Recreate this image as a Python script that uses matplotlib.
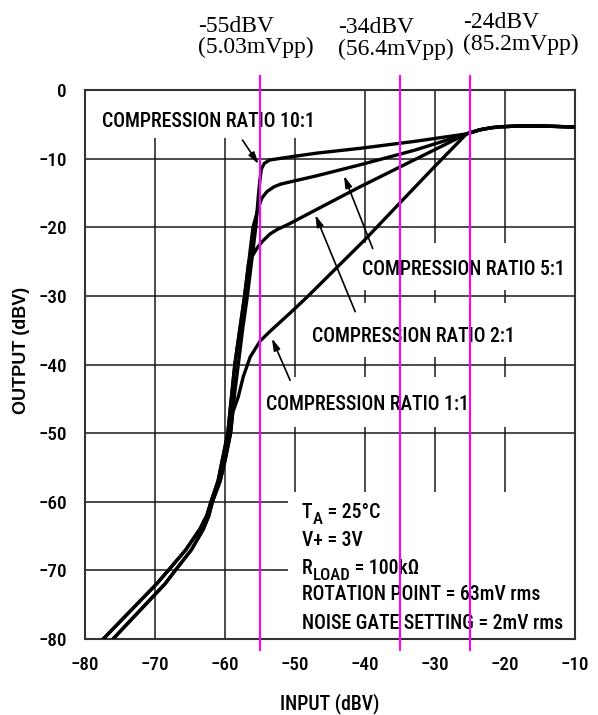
import os
import matplotlib
matplotlib.use("Agg")
import matplotlib.pyplot as plt
from matplotlib import font_manager
from matplotlib.font_manager import FontProperties
from matplotlib.patches import Rectangle

# pick a narrow sans font if one is installed (datasheet uses Arial Narrow)
wanted = ['liberationsansnarrow-regular', 'arialnarrow', 'robotocondensed-medium',
          'robotocondensed-regular', 'notosans-condensedmedium', 'notosans-condensed.',
          'opensans-condensed', 'dejavusanscondensed.']
files = [f.fname for f in font_manager.fontManager.ttflist]
narrow_file = None
for w in wanted:
    hits = [f for f in files if w in os.path.basename(f).lower()]
    if hits:
        narrow_file = hits[0]
        break
if narrow_file:
    NFP = FontProperties(fname=narrow_file)
else:
    NFP = FontProperties(family='Liberation Sans')

# ---- data ----
x_ticks = [-80, -70, -60, -50, -40, -30, -20, -10]
y_ticks = [0, -10, -20, -30, -40, -50, -60, -70, -80]

# noise gate / expansion region, two strands of the bundle
gate_y     = [-80, -76, -72, -70, -67, -64, -62, -60, -57, -54, -50, -47, -44, -40, -35, -30, -25, -20, -15]
gate_left  = [-77.4, -73.6, -69.8, -68.1, -65.6, -63.6, -62.6, -62.0, -61.0, -60.4, -59.6, -59.3, -59.0, -58.6, -57.9, -57.2, -56.6, -56.0, -55.5]
gate_right = [-76.0, -72.3, -68.6, -67.1, -64.8, -63.1, -62.3, -61.8, -60.7, -60.0, -59.2, -58.9, -58.6, -58.1, -57.5, -56.8, -56.2, -55.6, -55.2]

# compression branches (knee -> rotation point)
b1_x = [-58.1, -57.4, -56.4, -55.0, -53.6, -50.7, -48.3, -40.0, -34.5, -30.0]
b1_y = [-44.7, -41.8, -38.9, -36.6, -35.2, -32.5, -30.2, -21.8, -15.9, -11.1]
b2_x = [-56.1, -55.4, -54.6, -53.6, -52.5, -51.0, -46.9, -40.7, -33.0]
b2_y = [-24.2, -23.0, -22.0, -21.0, -20.3, -19.6, -17.4, -14.1, -10.2]
b5_x = [-55.6, -55.2, -54.7, -54.0, -53.0, -52.0, -46.9, -40.7, -33.0]
b5_y = [-18.5, -17.0, -15.7, -14.8, -14.1, -13.7, -12.5, -10.9, -8.8]
b10_x = [-55.0, -54.8, -54.4, -53.6, -51.7, -46.9, -40.7, -33.0]
b10_y = [-13.0, -11.5, -10.7, -10.2, -9.9, -9.2, -8.5, -7.5]

# above the rotation point (common to all)
tail_x = [-25.5, -23.6, -22.0, -20.5, -18.0, -15.5, -13.0, -10.0]
tail_y = [-6.4, -5.8, -5.5, -5.35, -5.25, -5.25, -5.3, -5.4]

ratio_labels = ['COMPRESSION RATIO 10:1', 'COMPRESSION RATIO 5:1',
                'COMPRESSION RATIO 2:1', 'COMPRESSION RATIO 1:1']

marker_x = [-55, -35, -25]
marker_db = ['-55dBV', '-34dBV', '-24dBV']
marker_vpp = ['(5.03mVpp)', '(56.4mVpp)', '(85.2mVpp)']


def gate_part(strand, y_stop):
    xs = [x for x, y in zip(strand, gate_y) if y <= y_stop]
    ys = [y for y in gate_y if y <= y_stop]
    return xs, ys


curves = [
    (gate_right, -47, b1_x, b1_y),
    (gate_left, -25, b2_x, b2_y),
    (gate_left, -20, b5_x, b5_y),
    (gate_right, -15, b10_x, b10_y),
]

W, H = 598, 715
fig = plt.figure(figsize=(W / 100, H / 100), dpi=100)
ax = fig.add_axes([85 / W, 1 - 639 / H, 490 / W, 549 / H])
rend = fig.canvas.get_renderer()


def fit_size(s, target_px, fp=NFP):
    t = fig.text(0, 0, s, fontproperties=fp, fontsize=20)
    w = t.get_window_extent(renderer=rend).width
    t.remove()
    return 20 * target_px / w


fs = (fit_size(ratio_labels[0], 213) + fit_size('NOISE GATE SETTING = 2mV rms', 263)) / 2
fs_tick = fit_size('\u221280', 28.5)
fs_xlab = fit_size('INPUT (dBV)', 99)

ax.set_xlim(-80, -10)
ax.set_ylim(-80, 0)
ax.set_xticks(x_ticks)
ax.set_yticks(y_ticks)
ax.grid(True, color='#1a1a1a', lw=1.1)
ax.set_axisbelow(True)
ax.tick_params(length=0)
ax.tick_params(axis='x', pad=12)
ax.tick_params(axis='y', pad=13)
for lab in ax.get_xticklabels() + ax.get_yticklabels():
    lab.set_fontproperties(NFP)
    lab.set_fontsize(fs_tick)
for s in ax.spines.values():
    s.set_color('#333333')
    s.set_linewidth(1.5)

# white areas behind the labels (grid is cut there)
for (x0, y0, x1, y1) in [(-80, -7.0, -45, 0), (-44, -29.2, -10, -22.3),
                         (-49, -38.9, -10, -31.0), (-55.5, -49.1, -10, -41.8),
                         (-51, -80, -10, -58.6)]:
    ax.add_patch(Rectangle((x0, y0), x1 - x0, y1 - y0, facecolor='white',
                           edgecolor='none', zorder=1))

for strand, ystop, bx, by in curves:
    gx, gy = gate_part(strand, ystop)
    xs = gx + bx + tail_x
    ys = gy + by + tail_y
    ax.plot(xs, ys, color='black', lw=2.4, solid_capstyle='round',
            solid_joinstyle='round', zorder=3)

for lab, (lx, ly) in zip(ratio_labels, [(-77.6, -5.35), (-40.4, -27.0),
                                        (-47.5, -36.7), (-54.1, -46.6)]):
    ax.text(lx, ly, lab, fontproperties=NFP, fontsize=fs, va='baseline', zorder=4)

ap = dict(arrowstyle='-|>,head_length=0.7,head_width=0.2', color='black',
          lw=1.2, shrinkA=0, shrinkB=0)
ax.annotate('', xy=(-55.2, -10.8), xytext=(-57.5, -7.3), arrowprops=ap, zorder=4)
ax.annotate('', xy=(-43.0, -12.5), xytext=(-38.9, -23.1), arrowprops=ap, zorder=4)
ax.annotate('', xy=(-47.1, -18.2), xytext=(-41.4, -32.3), arrowprops=ap, zorder=4)
ax.annotate('', xy=(-53.3, -36.2), xytext=(-50.7, -42.3), arrowprops=ap, zorder=4)


def text_run(x, y, parts):
    # parts: (string, size factor, baseline shift in points)
    inv = ax.transData.inverted()
    for s, k, dy in parts:
        t = ax.text(x, y, s, fontproperties=NFP, fontsize=fs * k, va='baseline',
                    zorder=4)
        if dy:
            t.set_transform(ax.transData + matplotlib.transforms.ScaledTranslation(
                0, dy / 72, fig.dpi_scale_trans))
        bb = t.get_window_extent(renderer=rend)
        x = inv.transform((bb.x1, 0))[0]


conditions = [
    [('T', 1, 0), ('A', 0.85, -4.5), (' = 25°C', 1, 0)],
    [('V+ = 3V', 1, 0)],
    [('R', 1, 0), ('LOAD', 0.85, -4.5), (' = 100kΩ', 1, 0)],
    [('ROTATION POINT = 63mV rms', 1, 0)],
    [('NOISE GATE SETTING = 2mV rms', 1, 0)],
]
for parts, yb in zip(conditions, [-62.4, -66.5, -70.5, -74.3, -78.5]):
    text_run(-49.0, yb, parts)

# markers
ax.vlines(marker_x, -81.7, 2.2, colors='#ff00ff', lw=1.5, clip_on=False, zorder=6)
for lab, vpp, px, b1, b2 in zip(marker_db, marker_vpp, [198, 338, 463],
                                [31.7, 33.0, 28.3], [53.3, 55.0, 50.0]):
    fig.text(px / W, 1 - b1 / H, lab, fontsize=17, family='Liberation Serif',
             va='baseline', ha='left')
    fig.text(px / W, 1 - b2 / H, vpp, fontsize=17, family='Liberation Serif',
             va='baseline', ha='left')

fig.text(330 / W, 1 - 704 / H, 'INPUT (dBV)', fontproperties=NFP,
         fontsize=fs_xlab, ha='center', va='center')
fig.text(22 / W, 1 - 350 / H, 'OUTPUT (dBV)', fontsize=13, rotation=90,
         family='Liberation Sans', fontweight='bold', ha='center', va='center')

fig.savefig('out.png', dpi=100)
